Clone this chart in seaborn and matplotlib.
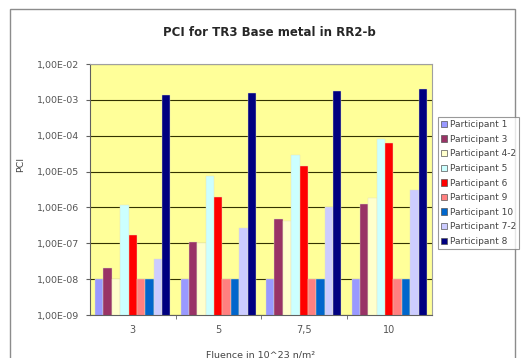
import pandas as pd
import numpy as np
import matplotlib.pyplot as plt
import matplotlib.patches as mpatches
from matplotlib.ticker import FixedLocator
import seaborn as sns

fluence = ['3', '5', '7,5', '10']
participants = ['Participant 1', 'Participant 3', 'Participant 4-2', 'Participant 5',
                'Participant 6', 'Participant 9', 'Participant 10', 'Participant 7-2',
                'Participant 8']

p1 = [1.0e-8, 1.0e-8, 1.0e-8, 1.0e-8]
p3 = [2.1e-8, 1.1e-7, 4.7e-7, 1.27e-6]
p4_2 = [1.0e-8, 1.0e-7, 4.2e-7, 1.85e-6]
p5 = [1.2e-6, 7.4e-6, 2.9e-5, 8.3e-5]
p6 = [1.7e-7, 1.9e-6, 1.4e-5, 6.1e-5]
p9 = [1.0e-8, 1.0e-8, 1.0e-8, 1.0e-8]
p10 = [1.0e-8, 1.0e-8, 1.0e-8, 1.0e-8]
p7_2 = [3.6e-8, 2.6e-7, 1.0e-6, 3.1e-6]
p8 = [1.4e-3, 1.53e-3, 1.8e-3, 2.0e-3]

colors = ['#9999FF', '#993366', '#FFFFCC', '#CCFFFF', '#FF0000', '#FF8080',
          '#0066CC', '#CCCCFF', '#000080']

series = [p1, p3, p4_2, p5, p6, p9, p10, p7_2, p8]
rows = []
for name, vals in zip(participants, series):
    for f, v in zip(fluence, vals):
        rows.append({'Fluence': f, 'PCI': v, 'Participant': name})
df = pd.DataFrame(rows)

sns.set_style('white')
plt.rcParams['font.family'] = ['DejaVu Sans']

fig = plt.figure(figsize=(5.21, 3.58), dpi=100)
fig.patch.set_facecolor('white')
fig.patches.append(mpatches.Rectangle((10 / 521, -0.01), 505 / 521, 1 - 9 / 358 + 0.01,
                                      transform=fig.transFigure, fill=False,
                                      edgecolor='#8c8c8c', lw=1.0))

ax = fig.add_axes([90 / 521, 1 - 315 / 358, 342 / 521, 251 / 358])
ax.set_facecolor('#FFFF99')

sns.barplot(data=df, x='Fluence', y='PCI', hue='Participant', order=fluence,
            hue_order=participants, palette=colors, width=0.88, gap=0,
            saturation=1, ax=ax, legend=False, edgecolor='#e0e0c0', linewidth=0.3)
ax.set_yscale('log')

ax.set_ylim(1e-9, 1e-2)
ax.set_yticks([10.0 ** e for e in range(-9, -1)])
ax.set_yticklabels(['1,00E-%02d' % -e for e in range(-9, -1)])
ax.minorticks_off()
ax.xaxis.set_minor_locator(FixedLocator([0.5, 1.5, 2.5]))
ax.yaxis.grid(True, color='#333300', lw=0.8)
ax.set_axisbelow(True)
for s in ['top', 'right']:
    ax.spines[s].set_color('#a0a0a0')
for s in ['left', 'bottom']:
    ax.spines[s].set_color('#606060')
ax.tick_params(axis='y', which='major', length=3, color='#606060',
               labelsize=6.8, labelcolor='#555555', left=True, pad=5)
ax.tick_params(axis='x', which='major', length=0, labelsize=7, labelcolor='#555555', pad=7)
ax.tick_params(axis='x', which='minor', length=3, color='#606060', bottom=True)

ax.set_xlabel('Fluence in 10^23 n/m²', fontsize=6.8, color='#444444', labelpad=11)
ax.set_ylabel('PCI', fontsize=6.8, color='#444444')
ax.yaxis.set_label_coords(-0.19, 0.6)
fig.text(269 / 521, 1 - 32 / 358, 'PCI for TR3 Base metal in RR2-b', ha='center',
         va='center', fontsize=8.5, fontweight='bold')

handles = [mpatches.Patch(facecolor=c, edgecolor='#555555', lw=0.5) for c in colors]
leg = fig.legend(handles, participants, loc='upper left',
                 bbox_to_anchor=(438 / 521, 1 - 117 / 358), fontsize=6.5,
                 frameon=True, fancybox=False, handlelength=0.7, handleheight=0.7,
                 handletextpad=0.25, labelspacing=0.62, borderpad=0.35,
                 borderaxespad=0)
leg.get_frame().set_edgecolor('#808080')
leg.get_frame().set_linewidth(0.8)
for t in leg.get_texts():
    t.set_color('#444444')

fig.savefig('out.png', dpi=100)
